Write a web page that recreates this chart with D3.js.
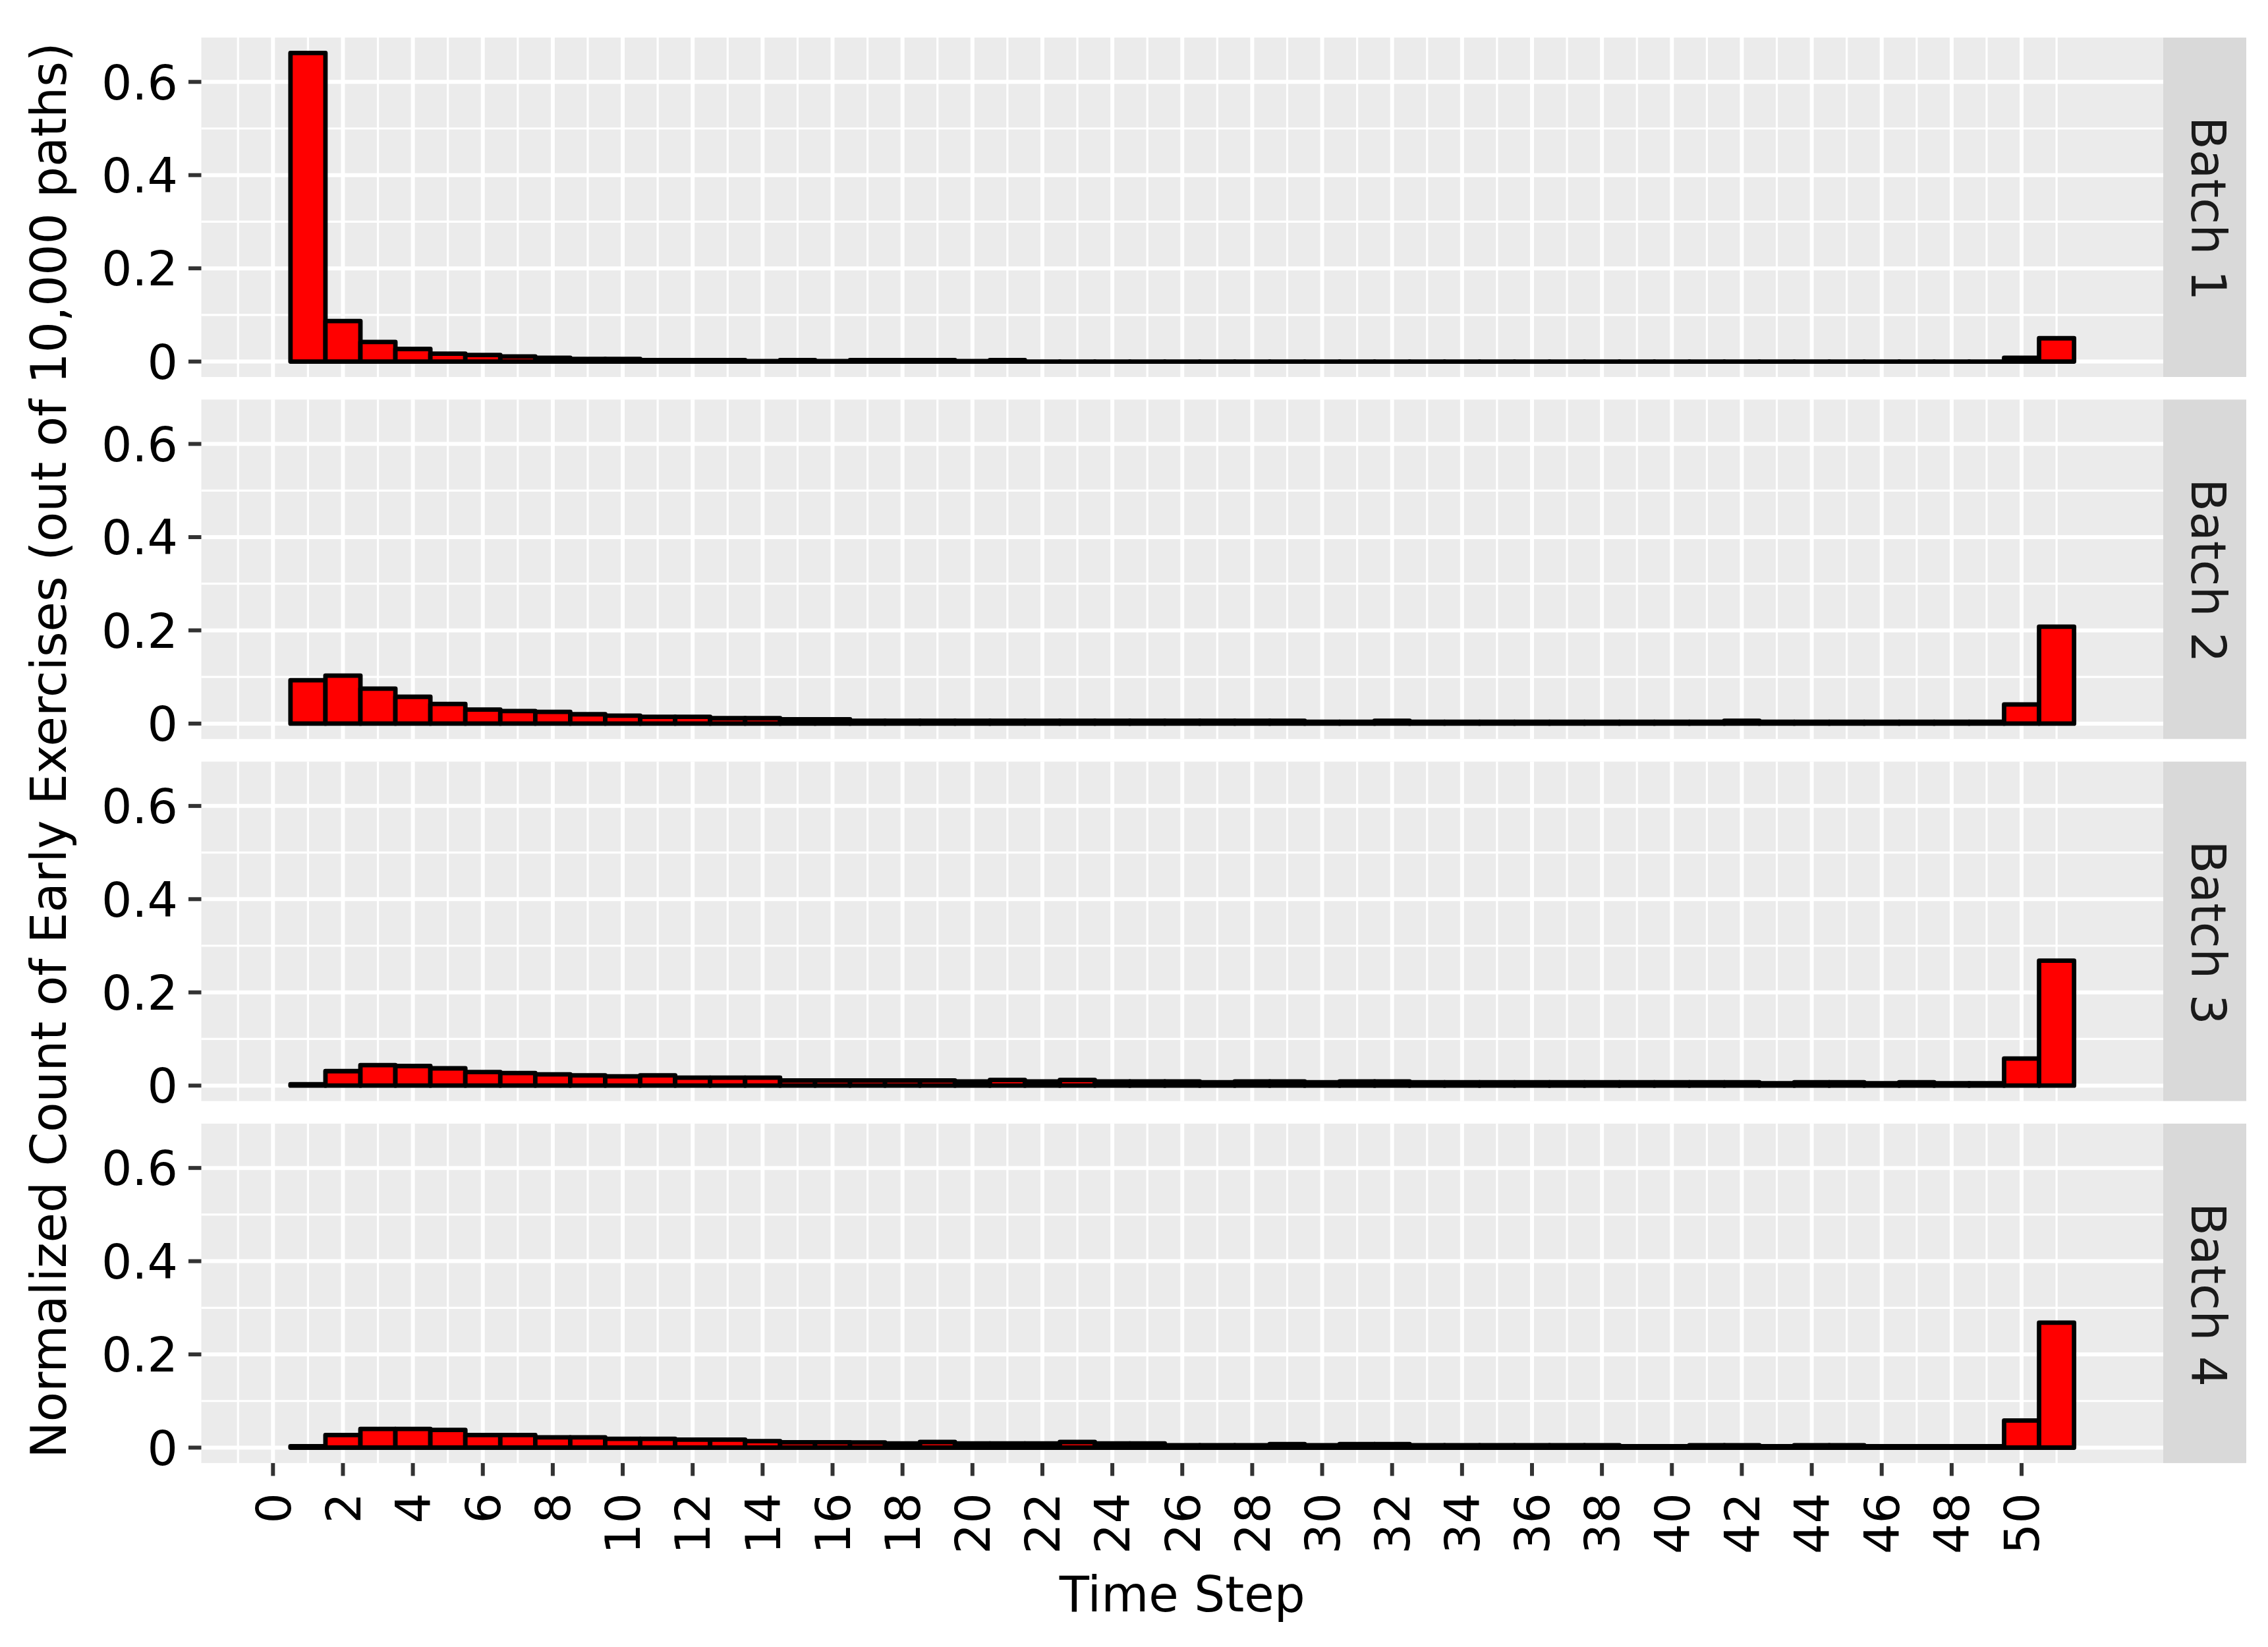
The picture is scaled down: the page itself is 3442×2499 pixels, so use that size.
<!DOCTYPE html>
<html>
<head>
<meta charset="utf-8">
<script src="https://cdn.jsdelivr.net/npm/d3@7"></script>
<style>
  html, body { margin: 0; padding: 0; background: #ffffff; }
  svg { display: block; }
</style>
</head>
<body>
<script>
// ---------------- DATA ----------------
const batches = ["Batch 1", "Batch 2", "Batch 3", "Batch 4"];

const timeSteps = [1, 2, 3, 4, 5, 6, 7, 8, 9, 10,
  11, 12, 13, 14, 15, 16, 17, 18, 19, 20,
  21, 22, 23, 24, 25, 26, 27, 28, 29, 30,
  31, 32, 33, 34, 35, 36, 37, 38, 39, 40,
  41, 42, 43, 44, 45, 46, 47, 48, 49, 50, 51];

const batch1 = [0.662, 0.087, 0.042, 0.027, 0.017, 0.014, 0.011, 0.008, 0.0056, 0.0056,
  0.003, 0.003, 0.003, 0.001, 0.003, 0.001, 0.003, 0.003, 0.003, 0.001,
  0.003, 0, 0, 0, 0, 0, 0, 0, 0, 0,
  0, 0, 0, 0, 0, 0, 0, 0, 0, 0,
  0, 0, 0, 0, 0, 0, 0, 0, 0, 0.008, 0.05];

const batch2 = [0.093, 0.103, 0.075, 0.0575, 0.042, 0.030, 0.027, 0.025, 0.020, 0.017,
  0.0146, 0.0146, 0.0115, 0.0115, 0.0092, 0.0092, 0.006, 0.006, 0.006, 0.006,
  0.006, 0.006, 0.006, 0.006, 0.006, 0.006, 0.006, 0.006, 0.006, 0.004,
  0.004, 0.006, 0.004, 0.004, 0.004, 0.004, 0.004, 0.004, 0.004, 0.004,
  0.004, 0.006, 0.004, 0.004, 0.004, 0.004, 0.004, 0.004, 0.004, 0.041, 0.208];

const batch3 = [0.003, 0.031, 0.044, 0.042, 0.037, 0.029, 0.027, 0.024, 0.022, 0.020,
  0.022, 0.017, 0.017, 0.017, 0.011, 0.011, 0.011, 0.011, 0.011, 0.009,
  0.012, 0.009, 0.012, 0.009, 0.009, 0.009, 0.007, 0.009, 0.009, 0.007,
  0.009, 0.009, 0.007, 0.007, 0.007, 0.007, 0.007, 0.007, 0.007, 0.007,
  0.007, 0.007, 0.005, 0.007, 0.007, 0.005, 0.007, 0.005, 0.005, 0.058, 0.268];

const batch4 = [0.003, 0.027, 0.040, 0.040, 0.038, 0.027, 0.027, 0.022, 0.022, 0.019,
  0.019, 0.017, 0.017, 0.014, 0.0116, 0.0116, 0.011, 0.009, 0.012, 0.009,
  0.009, 0.009, 0.012, 0.009, 0.009, 0.005, 0.005, 0.005, 0.0075, 0.005,
  0.0075, 0.0075, 0.005, 0.005, 0.005, 0.005, 0.005, 0.005, 0.003, 0.003,
  0.005, 0.005, 0.003, 0.005, 0.005, 0.003, 0.003, 0.003, 0.003, 0.058, 0.268];

const seriesValues = [batch1, batch2, batch3, batch4];

const xTicks = [0, 2, 4, 6, 8, 10, 12, 14, 16, 18, 20, 22, 24, 26, 28, 30,
  32, 34, 36, 38, 40, 42, 44, 46, 48, 50];
const xTickLabels = ["0", "2", "4", "6", "8", "10", "12", "14", "16", "18", "20", "22", "24", "26",
  "28", "30", "32", "34", "36", "38", "40", "42", "44", "46", "48", "50"];
const yTicks = [0, 0.2, 0.4, 0.6];
const yTickLabels = ["0", "0.2", "0.4", "0.6"];

const xTitle = "Time Step";
const yTitle = "Normalized Count of Early Exercises (out of 10,000 paths)";

// ---------------- LAYOUT ----------------
const W = 3442, H = 2499;
const panelLeft = 305.5, panelRight = 3283, stripRight = 3409;
const panelTop0 = 57, panelH = 515, panelPitch = 549.3;
const barStroke = 6.8, gridMajor = 6, gridMinor = 3.2, tickW = 6;
const font = "DejaVu Sans, Liberation Sans, sans-serif";

const svg = d3.select("body").append("svg")
  .attr("width", W).attr("height", H)
  .attr("viewBox", `0 0 ${W} ${H}`);

svg.append("rect").attr("width", W).attr("height", H).attr("fill", "#ffffff");

// x scale (ggplot-like 5% expansion on bin range)
const binLo = d3.min(timeSteps) - 0.5, binHi = d3.max(timeSteps) + 0.5;
const xPad = 0.05 * (binHi - binLo);
const x = d3.scaleLinear().domain([binLo - xPad, binHi + xPad]).range([panelLeft, panelRight]);

// y scale, shared across facets
const yMax = d3.max(seriesValues.flat());
const yPad = 0.05 * yMax;
const y = d3.scaleLinear().domain([-yPad, yMax + yPad]).range([panelH, 0]);

// minor breaks: midpoints between majors, plus one on each side
function minorBreaks(major, domain) {
  const step = major[1] - major[0];
  const out = [];
  out.push(major[0] - step / 2);
  for (let i = 0; i < major.length - 1; i++) out.push((major[i] + major[i + 1]) / 2);
  out.push(major[major.length - 1] + step / 2);
  return out.filter(v => v >= domain[0] && v <= domain[1]);
}
const xMinor = minorBreaks(xTicks, x.domain());
const yMinor = minorBreaks(yTicks, y.domain());

batches.forEach((name, i) => {
  const top = panelTop0 + i * panelPitch;
  const g = svg.append("g").attr("transform", `translate(0,${top})`);

  // panel background
  g.append("rect")
    .attr("x", panelLeft).attr("y", 0)
    .attr("width", panelRight - panelLeft).attr("height", panelH)
    .attr("fill", "#EBEBEB");

  const grid = g.append("g").attr("stroke", "#ffffff").attr("fill", "none");
  // minor grid
  grid.selectAll("line.xminor").data(xMinor).enter().append("line")
    .attr("x1", d => x(d)).attr("x2", d => x(d))
    .attr("y1", 0).attr("y2", panelH)
    .attr("stroke-width", gridMinor);
  grid.selectAll("line.yminor").data(yMinor).enter().append("line")
    .attr("x1", panelLeft).attr("x2", panelRight)
    .attr("y1", d => y(d)).attr("y2", d => y(d))
    .attr("stroke-width", gridMinor);
  // major grid
  grid.selectAll("line.xmajor").data(xTicks).enter().append("line")
    .attr("x1", d => x(d)).attr("x2", d => x(d))
    .attr("y1", 0).attr("y2", panelH)
    .attr("stroke-width", gridMajor);
  grid.selectAll("line.ymajor").data(yTicks).enter().append("line")
    .attr("x1", panelLeft).attr("x2", panelRight)
    .attr("y1", d => y(d)).attr("y2", d => y(d))
    .attr("stroke-width", gridMajor);

  // bars (paths so that zero-height bars still draw their outline)
  const vals = seriesValues[i];
  const data = timeSteps.map((t, k) => ({ t, v: vals[k] }));
  g.append("g").selectAll("path").data(data).enter().append("path")
    .attr("d", d => {
      const x0 = x(d.t - 0.5), x1 = x(d.t + 0.5);
      const y0 = y(0), y1 = y(d.v);
      return `M${x0},${y0}L${x1},${y0}L${x1},${y1}L${x0},${y1}Z`;
    })
    .attr("fill", "#FF0000")
    .attr("stroke", "#000000")
    .attr("stroke-width", barStroke)
    .attr("stroke-linejoin", "round");

  // y ticks
  g.append("g").selectAll("line").data(yTicks).enter().append("line")
    .attr("x1", panelLeft - 19.5).attr("x2", panelLeft)
    .attr("y1", d => y(d)).attr("y2", d => y(d))
    .attr("stroke", "#333333").attr("stroke-width", tickW);
  g.append("g").selectAll("text").data(yTicks).enter().append("text")
    .attr("x", 270).attr("y", d => y(d))
    .attr("dy", "0.36em")
    .attr("text-anchor", "end")
    .attr("font-family", font).attr("font-size", 73)
    .attr("fill", "#000000")
    .text((d, k) => yTickLabels[k]);

  // strip
  g.append("rect")
    .attr("x", panelRight).attr("y", 0)
    .attr("width", stripRight - panelRight).attr("height", panelH)
    .attr("fill", "#D9D9D9");
  g.append("text")
    .attr("transform", `translate(3352,${panelH / 2 + 2}) rotate(90)`)
    .attr("dy", "0.36em")
    .attr("text-anchor", "middle")
    .attr("font-family", font).attr("font-size", 73)
    .attr("fill", "#1A1A1A")
    .text(name);

  // x axis on last panel
  if (i === batches.length - 1) {
    g.append("g").selectAll("line").data(xTicks).enter().append("line")
      .attr("x1", d => x(d)).attr("x2", d => x(d))
      .attr("y1", panelH).attr("y2", panelH + 19.5)
      .attr("stroke", "#333333").attr("stroke-width", tickW);
    g.append("g").selectAll("text").data(xTicks).enter().append("text")
      .attr("transform", d => `translate(${x(d)},${2265 - top}) rotate(-90)`)
      .attr("dy", "0.36em")
      .attr("text-anchor", "end")
      .attr("font-family", font).attr("font-size", 73)
      .attr("fill", "#000000")
      .text((d, k) => xTickLabels[k]);
  }
});

// axis titles
svg.append("text")
  .attr("x", (panelLeft + panelRight) / 2).attr("y", 2445)
  .attr("text-anchor", "middle")
  .attr("font-family", font).attr("font-size", 74)
  .attr("fill", "#000000")
  .text(xTitle);

const panelsMid = (panelTop0 + panelTop0 + 3 * panelPitch + panelH) / 2;
svg.append("text")
  .attr("transform", `translate(100,${panelsMid}) rotate(-90)`)
  .attr("text-anchor", "middle")
  .attr("font-family", font).attr("font-size", 74)
  .attr("fill", "#000000")
  .text(yTitle);
</script>
</body>
</html>
